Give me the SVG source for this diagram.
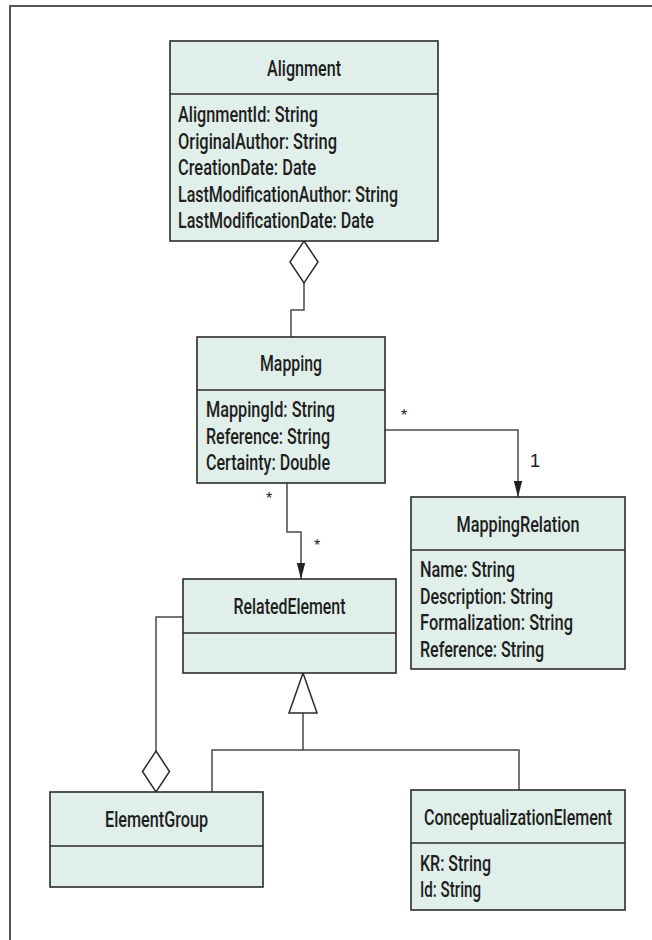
<svg xmlns="http://www.w3.org/2000/svg" width="652" height="940" viewBox="0 0 652 940">
<defs>
<style>
.box{fill:#e1efea;stroke:#2b2b2b;stroke-width:1.6}
.sep{stroke:#2b2b2b;stroke-width:1.4}
.t{font-family:Roboto,"Liberation Sans",Arial,sans-serif;font-size:22px;font-weight:500;fill:#1e1e1e}
.c{text-anchor:middle}
.ln{fill:none;stroke:#4a4a4a;stroke-width:1.5}
.hollow{fill:#fff;stroke:#2b2b2b;stroke-width:1.5}
.lbl{font-family:"Liberation Sans",Arial,sans-serif;fill:#222}
.frame{fill:none;stroke:#555;stroke-width:2}
</style>
<marker id="arr" viewBox="0 0 16 10" refX="16" refY="5" markerWidth="16" markerHeight="10" markerUnits="userSpaceOnUse" orient="auto">
<path d="M0,0.8 L16,5 L0,9.2 Z" fill="#222"/>
</marker>
</defs>
<rect width="652" height="940" fill="#fff"/>
<path class="frame" d="M10,940 V6 H652"/>

<g id="connectors">
<path class="ln" d="M304,283 V310 H291 V337"/>
<path class="hollow" d="M304,241 L318,262 L304,283 L290,262 Z"/>
<path class="ln" d="M385,430 H518 V497" marker-end="url(#arr)"/>
<path class="ln" d="M287,483 V532 H301 V579" marker-end="url(#arr)"/>
<path class="ln" d="M183,617 H156 V751"/>
<path class="hollow" d="M156,751 L169.5,771.5 L156,792 L142.5,771.5 Z"/>
<path class="ln" d="M303,713 V750 M212,792 V750 H519 V790"/>
<path class="hollow" d="M303,673 L317,713 L289,713 Z"/>
<text class="lbl c" x="404" y="421" font-size="16">*</text>
<text class="lbl c" x="535" y="467" font-size="19">1</text>
<text class="lbl c" x="269" y="504" font-size="16">*</text>
<text class="lbl c" x="317" y="551" font-size="16">*</text>
</g>

<g id="Alignment">
<rect class="box" x="170" y="41" width="268" height="200"/>
<line class="sep" x1="170" y1="94" x2="438" y2="94"/>
<text class="t c" x="304" y="76" textLength="74" lengthAdjust="spacingAndGlyphs">Alignment</text>
<text class="t" x="178" y="122" textLength="140" lengthAdjust="spacingAndGlyphs">AlignmentId: String</text>
<text class="t" x="178" y="148.5" textLength="159" lengthAdjust="spacingAndGlyphs">OriginalAuthor: String</text>
<text class="t" x="178" y="175" textLength="138" lengthAdjust="spacingAndGlyphs">CreationDate: Date</text>
<text class="t" x="178" y="201.5" textLength="220" lengthAdjust="spacingAndGlyphs">LastModificationAuthor: String</text>
<text class="t" x="178" y="228" textLength="196" lengthAdjust="spacingAndGlyphs">LastModificationDate: Date</text>
</g>

<g id="Mapping">
<rect class="box" x="197" y="337" width="188" height="146"/>
<line class="sep" x1="197" y1="390" x2="385" y2="390"/>
<text class="t c" x="291" y="371" textLength="62" lengthAdjust="spacingAndGlyphs">Mapping</text>
<text class="t" x="206" y="417" textLength="129" lengthAdjust="spacingAndGlyphs">MappingId: String</text>
<text class="t" x="206" y="443.5" textLength="124" lengthAdjust="spacingAndGlyphs">Reference: String</text>
<text class="t" x="206" y="470" textLength="124" lengthAdjust="spacingAndGlyphs">Certainty: Double</text>
</g>

<g id="MappingRelation">
<rect class="box" x="411" y="497" width="214" height="172"/>
<line class="sep" x1="411" y1="550" x2="625" y2="550"/>
<text class="t c" x="518" y="532" textLength="123" lengthAdjust="spacingAndGlyphs">MappingRelation</text>
<text class="t" x="420" y="577" textLength="95" lengthAdjust="spacingAndGlyphs">Name: String</text>
<text class="t" x="420" y="603.5" textLength="133" lengthAdjust="spacingAndGlyphs">Description: String</text>
<text class="t" x="420" y="630" textLength="153" lengthAdjust="spacingAndGlyphs">Formalization: String</text>
<text class="t" x="420" y="656.5" textLength="124" lengthAdjust="spacingAndGlyphs">Reference: String</text>
</g>

<g id="RelatedElement">
<rect class="box" x="183" y="579" width="213" height="94"/>
<line class="sep" x1="183" y1="633" x2="396" y2="633"/>
<text class="t c" x="289.5" y="614" textLength="112" lengthAdjust="spacingAndGlyphs">RelatedElement</text>
</g>

<g id="ElementGroup">
<rect class="box" x="50" y="792" width="213" height="95"/>
<line class="sep" x1="50" y1="846" x2="263" y2="846"/>
<text class="t c" x="156.5" y="826.5" textLength="103" lengthAdjust="spacingAndGlyphs">ElementGroup</text>
</g>

<g id="ConceptualizationElement">
<rect class="box" x="411" y="790" width="214" height="120"/>
<line class="sep" x1="411" y1="843" x2="625" y2="843"/>
<text class="t c" transform="translate(518 825) scale(0.8 1)" x="0" y="0" textLength="235" lengthAdjust="spacingAndGlyphs">ConceptualizationElement</text>
<text class="t" x="420" y="871" textLength="71" lengthAdjust="spacingAndGlyphs">KR: String</text>
<text class="t" x="420" y="897" textLength="61" lengthAdjust="spacingAndGlyphs">Id: String</text>
</g>
</svg>
